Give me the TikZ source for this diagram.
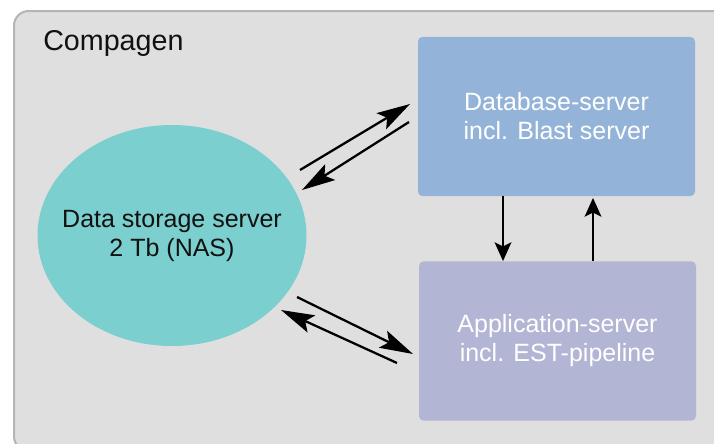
\documentclass[tikz,border=0pt]{standalone}
\usepackage{fontspec}
\setmainfont{Liberation Sans}
\usetikzlibrary{arrows.meta,calc,shapes.geometric}
\definecolor{bggray}{HTML}{DFDFDF}
\definecolor{bgborder}{HTML}{B4B4B4}
\definecolor{nascol}{HTML}{7BCFCF}
\definecolor{dbcol}{HTML}{93B4D8}
\definecolor{appcol}{HTML}{B3B5D4}
\definecolor{txtdark}{HTML}{111111}
\begin{document}
\begin{tikzpicture}[x=0.75pt,y=-0.75pt,
  srvbox/.style={rectangle, rounded corners=3.5pt, draw=none,
    minimum width=207.75pt, minimum height=119.5pt, inner sep=0pt,
    text=white, align=center,
    font=\fontsize{18.75pt}{21.75pt}\selectfont},
  nasshape/.style={ellipse, draw=none, fill=nascol,
    minimum width=201.75pt, minimum height=165.75pt, inner sep=0pt},
  nastext/.style={text=txtdark, align=center, inner sep=0pt,
    font=\fontsize{18.75pt}{21.75pt}\selectfont},
  arrdiag/.style={line width=1.7pt, black,
    -{Stealth[length=25pt,width=14pt,inset=5pt]}},
  arrvert/.style={line width=1.7pt, black,
    -{Stealth[length=14pt,width=12.5pt,inset=3pt]}}]
\useasboundingbox (0,0) rectangle (714,443);
\begin{scope}
\clip (0,0) rectangle (714,443);
\node[draw=bgborder, line width=1.5pt, fill=bggray, rounded corners=11pt,
  rectangle, minimum width=562.5pt, minimum height=330pt, anchor=north west,
  inner sep=0pt] (outer) at (13,10) {};
\end{scope}
\node[anchor=base west, text=txtdark, font=\fontsize{21.5pt}{24pt}\selectfont,
  inner sep=0pt] (title) at (43,50) {Compagen};
\node[nasshape] (nas) at (172,235.5) {};
\node[nastext] (nasl) at (nas.center) {Data storage server\\2 Tb (NAS)};
\node[srvbox, fill=dbcol] (db) at (556.5,116.5) {Database-server\\incl. Blast server};
\node[srvbox, fill=appcol] (app) at (557.5,341) {Application-server\\incl. EST-pipeline};
% diagonal arrow ends
\coordinate (n1) at (300,170);
\coordinate (d1) at (410,104);
\coordinate (d2) at (409,122);
\coordinate (n2) at (302,190);
\coordinate (n3) at (297,297);
\coordinate (a3) at (413,354);
\coordinate (a4) at (397,363);
\coordinate (n4) at (281,310);
\draw[arrdiag] (n1) -- (d1);
\draw[arrdiag] (d2) -- (n2);
\draw[arrdiag] (n3) -- (a3);
\draw[arrdiag] (a4) -- (n4);
\draw[arrvert] ($(db.south)+(-53.5,0)$) -- ($(app.north)+(-54.5,0)$);
\draw[arrvert] ($(app.north)+(35.5,0)$) -- ($(db.south)+(36.5,1.5)$);
\end{tikzpicture}
\end{document}
